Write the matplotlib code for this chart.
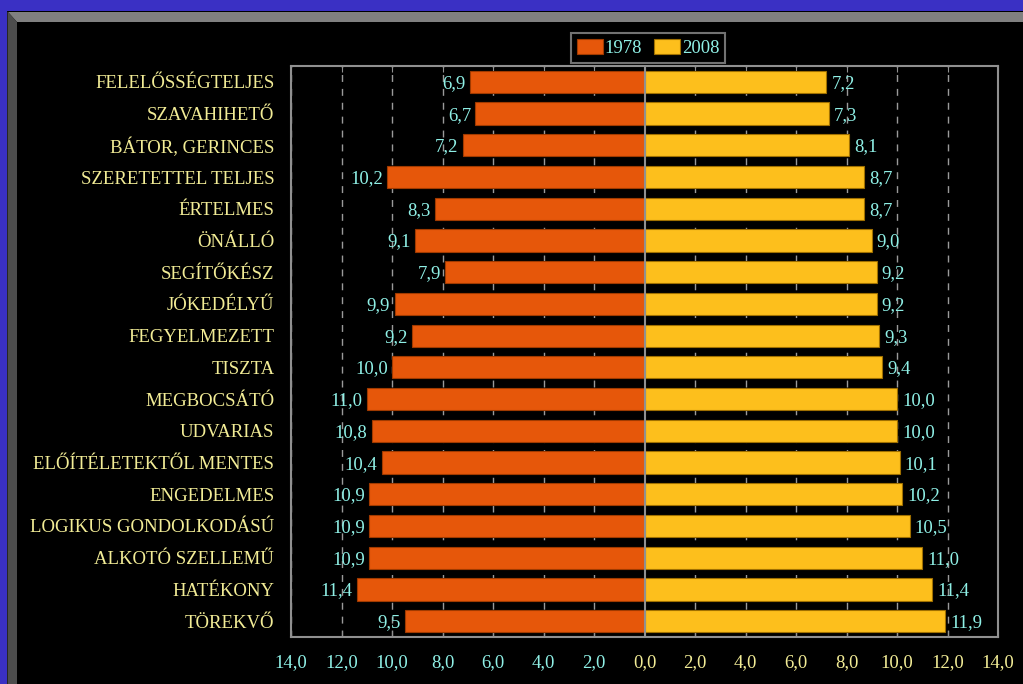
import matplotlib
matplotlib.use("Agg")
import matplotlib.pyplot as plt
from matplotlib.patches import Polygon
import numpy as np

categories = ["FELELŐSSÉGTELJES", "SZAVAHIHETŐ", "BÁTOR, GERINCES", "SZERETETTEL TELJES",
              "ÉRTELMES", "ÖNÁLLÓ", "SEGÍTŐKÉSZ", "JÓKEDÉLYŰ", "FEGYELMEZETT", "TISZTA",
              "MEGBOCSÁTÓ", "UDVARIAS", "ELŐÍTÉLETEKTŐL MENTES", "ENGEDELMES",
              "LOGIKUS GONDOLKODÁSÚ", "ALKOTÓ SZELLEMŰ", "HATÉKONY", "TÖREKVŐ"]
v1978 = [6.9, 6.7, 7.2, 10.2, 8.3, 9.1, 7.9, 9.9, 9.2, 10.0, 11.0, 10.8, 10.4, 10.9, 10.9, 10.9, 11.4, 9.5]
v2008 = [7.2, 7.3, 8.1, 8.7, 8.7, 9.0, 9.2, 9.2, 9.3, 9.4, 10.0, 10.0, 10.1, 10.2, 10.5, 11.0, 11.4, 11.9]
ticks = [-14, -12, -10, -8, -6, -4, -2, 0, 2, 4, 6, 8, 10, 12, 14]

plt.rcParams['font.family'] = ['Liberation Serif', 'DejaVu Serif']

W, H = 1023, 684
fig = plt.figure(figsize=(W / 100, H / 100), dpi=100)
fig.patch.set_facecolor('black')

def px(x, y):
    return (x / W, 1 - y / H)

# frame decoration
fig.patches.append(Polygon([px(0, 0), px(W, 0), px(W, 11), px(7, 11), px(7, H), px(0, H)],
                           closed=True, transform=fig.transFigure, facecolor='#3a30c4', edgecolor='none'))
fig.patches.append(Polygon([px(7.5, 11.5), px(W, 11.5), px(W, 22), px(17, 22)],
                           closed=True, transform=fig.transFigure, facecolor='#808080', edgecolor='none'))
fig.patches.append(Polygon([px(7.5, 11.5), px(17, 22), px(17, H), px(7.5, H)],
                           closed=True, transform=fig.transFigure, facecolor='#4d4d4d', edgecolor='none'))

ax = fig.add_axes([291 / W, 1 - 637 / H, (998 - 291) / W, (637 - 66) / H])
ax.set_facecolor('black')

n = len(categories)
y = np.arange(n)
orange = '#e6570a'
yellow = '#fdbf1c'
cyan = '#8ff0e6'
lyellow = '#f2ec96'
fs = 13.5

for xv in ticks:
    if xv != 0:
        ax.axvline(xv, color='#9a9a9a', lw=1, ls=(0, (5, 5)), zorder=0)

b1 = ax.barh(y, [-v for v in v1978], height=0.7, color=orange, edgecolor='#a03a00', lw=0.8, zorder=2, label='1978')
b2 = ax.barh(y, v2008, height=0.7, color=yellow, edgecolor='#a07000', lw=0.8, zorder=2, label='2008')
ax.axvline(0, color='#909090', lw=1.5, zorder=3)

for i in range(n):
    ax.text(-v1978[i] - 0.17, y[i] + 0.05, f"{v1978[i]:.1f}".replace('.', ','), ha='right', va='center',
            color=cyan, fontsize=fs, zorder=4)
    ax.text(v2008[i] + 0.2, y[i] + 0.05, f"{v2008[i]:.1f}".replace('.', ','), ha='left', va='center',
            color=cyan, fontsize=fs, zorder=4)

ax.set_xlim(-14, 14)
ax.set_ylim(n - 0.5, -0.5)
ax.set_yticks(y)
ax.set_yticklabels(categories, color=lyellow, fontsize=fs)
ax.tick_params(axis='y', length=0, pad=12)
ax.set_xticks(ticks)
ax.set_xticklabels([f"{abs(t):.1f}".replace('.', ',') for t in ticks], fontsize=fs)
for lab, t in zip(ax.get_xticklabels(), ticks):
    lab.set_color(cyan if t < 0 else lyellow)
ax.tick_params(axis='x', direction='in', length=4, color='#909090', top=True, pad=12)
for s in ax.spines.values():
    s.set_color('#909090')
    s.set_linewidth(1.5)

leg = fig.legend(handles=[b1, b2], loc='center', bbox_to_anchor=(648 / W, 1 - 48 / H), ncol=2,
                 frameon=True, facecolor='black', edgecolor='#909090', fontsize=fs,
                 handlelength=1.4, handleheight=0.9, handletextpad=0.1, columnspacing=0.6,
                 borderpad=0.3, fancybox=False, borderaxespad=0)
for t in leg.get_texts():
    t.set_color(cyan)
leg.get_frame().set_linewidth(1.5)

fig.savefig('out.png', dpi=100, facecolor=fig.get_facecolor())
